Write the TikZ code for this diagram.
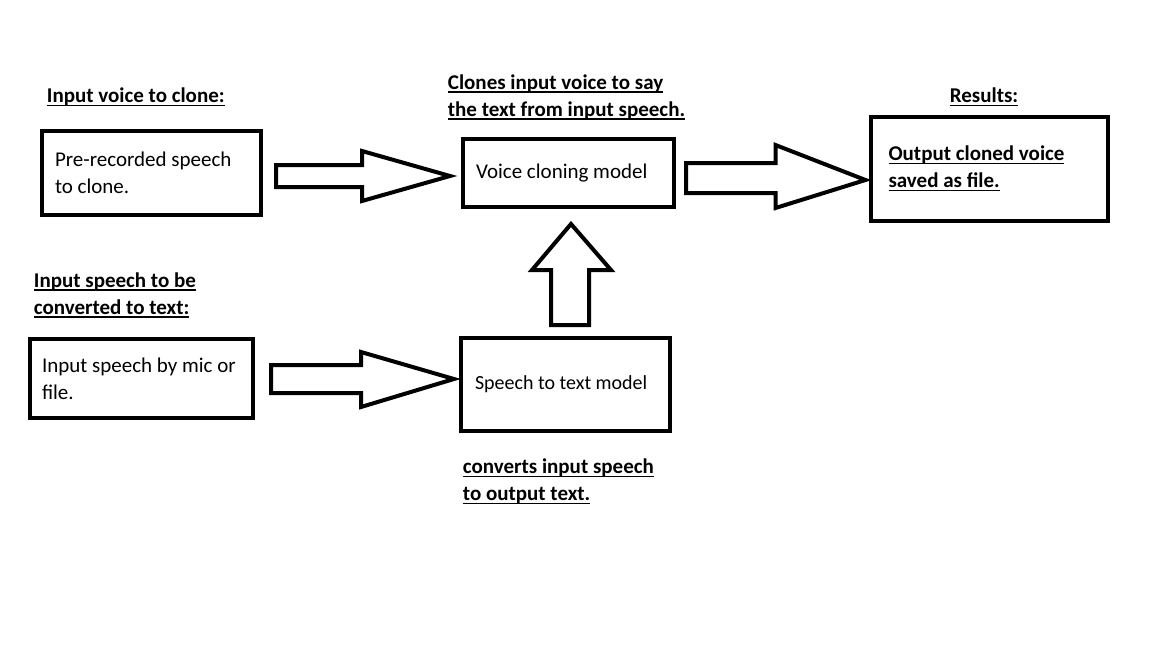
\documentclass[tikz,border=0pt]{standalone}
\usepackage{fontspec}
\setmainfont{Carlito}
\usetikzlibrary{calc}
\newcommand{\ulin}[1]{\setbox0\hbox{#1}\rlap{\rule[-1.7pt]{\wd0}{0.7pt}}\box0}
\def\lbl#1{\textbf{\ulin{#1}}}

\begin{document}
\begin{tikzpicture}[x=0.5pt,y=0.5pt,yscale=-1,xscale=1,
	box/.style={draw, line width=2pt, align=flush left, inner xsep=6.5pt, inner ysep=0pt, font=\fontsize{10.5}{13.5}\selectfont},
	fatarr/.style={draw, line width=2pt, line join=miter},
	note/.style={inner sep=0.75pt, align=flush left, font=\fontsize{10.5}{13.5}\selectfont\bfseries}]
	\useasboundingbox (0,0) rectangle (1152,648);
	% boxes
	\node (pre) at (151.5,173) [box, minimum width=109.5pt, minimum height=42pt, text width=96.5pt] {Pre-recorded speech\\to clone.};
	\node (vcm) at (568.5,173) [box, minimum width=105.5pt, minimum height=34pt, text width=92.5pt] {Voice cloning model};
	\node (res) at (989,168.5) [box, minimum width=118.5pt, minimum height=52pt, inner xsep=9pt, text width=100.5pt] {\lbl{Output cloned voice}\\\lbl{saved as file.}};
	\node (inp) at (141.5,378.5) [box, minimum width=111.5pt, minimum height=39.5pt, inner xsep=6pt, text width=99.5pt] {Input speech by mic or\\file.};
	\node (sttm) at (565.5,384.5) [box, minimum width=104.5pt, minimum height=46.5pt, inner xsep=7pt, text width=90.5pt, font=\fontsize{10}{12}\selectfont] {Speech to text model};
	% labels
	\node (lblvoice) at (45,97) [note, anchor=west] {\ulin{Input voice to clone:}};
	\node (lblclone) at (446,97) [note, anchor=west] {\ulin{Clones input voice to say}\\\ulin{the text from input speech.}};
	\node (lblres) at (984,97) [note] {\ulin{Results:}};
	\node (lblspeech) at (32,295) [note, anchor=west] {\ulin{Input speech to be}\\\ulin{converted to text:}};
	\node (lblstt) at (461,481.5) [note, anchor=west] {\ulin{converts input speech}\\\ulin{to output text.}};
	% block arrows
	\draw[fatarr] ($(pre.east)+(13,-8)$) -- ($(vcm.west)+(-99,-8)$) -- ($(vcm.west)+(-99,-22)$) -- ($(vcm.west)+(-11,3)$)
		-- ($(vcm.west)+(-99,28)$) -- ($(vcm.west)+(-99,14)$) -- ($(pre.east)+(13,14)$) -- cycle;
	\draw[fatarr] ($(vcm.east)+(10,-10)$) -- ($(res.west)+(-93,-5.5)$) -- ($(res.west)+(-93,-23.5)$) -- ($(res.west)+(-3,11.5)$)
		-- ($(res.west)+(-93,39.5)$) -- ($(res.west)+(-93,24.5)$) -- ($(vcm.east)+(10,20)$) -- cycle;
	\draw[fatarr] ($(inp.east)+(16,-13.5)$) -- ($(sttm.west)+(-98,-19.5)$) -- ($(sttm.west)+(-98,-32.5)$) -- ($(sttm.west)+(-5,-5.5)$)
		-- ($(sttm.west)+(-98,22.5)$) -- ($(sttm.west)+(-98,8.5)$) -- ($(inp.east)+(16,14.5)$) -- cycle;
	\draw[fatarr] ($(sttm.north)+(-14.5,-11)$) -- ($(vcm.south)+(-17.5,61)$) -- ($(vcm.south)+(-36.5,61)$) -- ($(vcm.south)+(2.5,15)$)
		-- ($(vcm.south)+(42.5,61)$) -- ($(vcm.south)+(20.5,61)$) -- ($(sttm.north)+(23.5,-11)$) -- cycle;
\end{tikzpicture}
\end{document}
